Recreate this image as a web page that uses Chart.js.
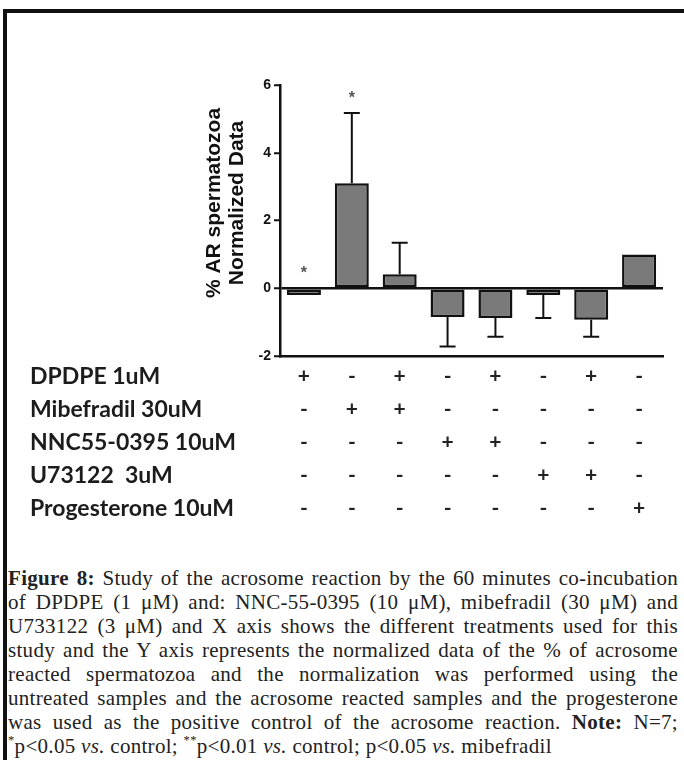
<!DOCTYPE html>
<html>
<head>
<meta charset="utf-8">
<script src="https://cdn.jsdelivr.net/npm/chart.js@4.4.0/dist/chart.umd.min.js"></script>
<style>
  body { margin: 0; background: #fff; width: 684px; height: 760px; overflow: hidden; position: relative; }
  #frame { position: absolute; left: 3px; top: 9px; width: 720px; height: 800px;
           border-left: 4px solid #111; border-top: 4px solid #111; }
  #arChart { position: absolute; left: 0; top: 0; }
  #caption { position: absolute; left: 8px; top: 566px; width: 670px;
             font-family: "Liberation Serif", serif; font-size: 21px; line-height: 24px;
             letter-spacing: 0.3px; color: #222; }
  #caption div { white-space: nowrap; text-align: justify; text-align-last: justify; }
  #caption div.last { text-align: left; text-align-last: left; }
  #caption sup { font-size: 0.6em; line-height: 0; vertical-align: 0.7em; }
</style>
</head>
<body>
<div id="frame"></div>
<canvas id="arChart" width="684" height="560"></canvas>
<div id="caption">
  <div><b>Figure 8:</b> Study of the acrosome reaction by the 60 minutes co-incubation</div>
  <div>of DPDPE (1 μM) and: NNC-55-0395 (10 μM), mibefradil (30 μM) and</div>
  <div>U733122 (3 μM) and X axis shows the different treatments used for this</div>
  <div>study and the Y axis represents the normalized data of the % of acrosome</div>
  <div>reacted spermatozoa and the normalization was performed using the</div>
  <div>untreated samples and the acrosome reacted samples and the progesterone</div>
  <div>was used as the positive control of the acrosome reaction. <b>Note:</b> N=7;</div>
  <div class="last"><sup>*</sup>p&lt;0.05 <i>vs.</i> control; <sup>**</sup>p&lt;0.01 <i>vs.</i> control; p&lt;0.05 <i>vs.</i> mibefradil</div>
</div>
<script>
// treatment rows shown under the x axis
const treatments = ['DPDPE 1uM', 'Mibefradil 30uM', 'NNC55-0395 10uM', 'U73122  3uM', 'Progesterone 10uM'];
const dpdpe        = ['+', '-', '+', '-', '+', '-', '+', '-'];
const mibefradil   = ['-', '+', '+', '-', '-', '-', '-', '-'];
const nnc          = ['-', '-', '-', '+', '+', '-', '-', '-'];
const u73122       = ['-', '-', '-', '-', '-', '+', '+', '-'];
const progesterone = ['-', '-', '-', '-', '-', '-', '-', '+'];

// normalized % AR spermatozoa (mean) and error (one-sided)
const arValues = [-0.2, 3.1, 0.41, -0.85, -0.88, -0.2, -0.93, 1.0];
const arErrors = [0, 2.07, 0.93, 0.87, 0.55, 0.68, 0.5, 0];
const significance = ['*', '*', '', '', '', '', '', ''];
const yTicks = [-2, 0, 2, 4, 6];
const yTitle = ['% AR spermatozoa', 'Normalized Data'];

// each x label is the column of +/- for that group
const groupLabels = dpdpe.map((d, i) => [d, mibefradil[i], nnc[i], u73122[i], progesterone[i]]);

const ROW_H = 33;
const TICK_PAD = 4;

// error bars + significance stars
const errorBarPlugin = {
    id: 'errorBars',
    afterDatasetsDraw(chart) {
        const ctx = chart.ctx;
        const x = chart.scales.x, y = chart.scales.y;
        ctx.save();
        ctx.strokeStyle = '#111';
        ctx.lineWidth = 2;
        arValues.forEach((v, i) => {
            const cx = x.getPixelForValue(i);
            const err = arErrors[i];
            if (err) {
                const end = v >= 0 ? v + err : v - err;
                const y0 = y.getPixelForValue(v);
                const y1 = y.getPixelForValue(end);
                ctx.beginPath();
                ctx.moveTo(cx, y0);
                ctx.lineTo(cx, y1);
                ctx.moveTo(cx - 8, y1);
                ctx.lineTo(cx + 8, y1);
                ctx.stroke();
            }
            if (significance[i]) {
                const top = Math.max(0, v + (v >= 0 ? err : 0));
                ctx.fillStyle = '#555';
                ctx.font = 'bold 16px "Liberation Sans"';
                ctx.textAlign = 'center';
                ctx.textBaseline = 'middle';
                ctx.fillText(significance[i], cx, y.getPixelForValue(top) - 15);
            }
        });
        ctx.restore();
    }
};

// row names to the left of the +/- table, and the rotated y title
const labelPlugin = {
    id: 'sideLabels',
    afterDraw(chart) {
        const ctx = chart.ctx;
        const x = chart.scales.x;
        ctx.save();
        ctx.fillStyle = '#1c1c1c';
        ctx.font = 'bold 23px Lato';
        ctx.textAlign = 'left';
        ctx.textBaseline = 'middle';
        treatments.forEach((t, i) => {
            ctx.fillText(t, 30, x.top + TICK_PAD + ROW_H * (i + 0.5));
        });
        ctx.restore();

        // y title sits a bit above the axis middle in the original
        ctx.save();
        ctx.fillStyle = '#111';
        ctx.font = 'bold 21px "Liberation Sans"';
        ctx.textAlign = 'center';
        ctx.textBaseline = 'middle';
        ctx.translate(214, 203);
        ctx.rotate(-Math.PI / 2);
        yTitle.forEach((line, i) => ctx.fillText(line, 0, i * 23));
        ctx.restore();
    }
};

const ctx = document.getElementById('arChart').getContext('2d');
const arChart = new Chart(ctx, {
    type: 'bar',
    data: {
        labels: groupLabels,
        datasets: [{
            data: arValues,
            backgroundColor: '#7a7a7a',
            borderColor: '#111',
            borderWidth: 2.5,
            borderSkipped: false,
            barPercentage: 0.71,
            categoryPercentage: 1.0
        }]
    },
    options: {
        responsive: false,
        animation: false,
        layout: { padding: { left: 200, right: 21, top: 85, bottom: 0 } },
        plugins: { legend: { display: false }, tooltip: { enabled: false } },
        scales: {
            x: {
                grid: { display: false, drawTicks: false },
                border: { display: true, color: '#111', width: 2.5 },
                ticks: {
                    color: '#222',
                    autoSkip: false,
                    maxRotation: 0,
                    padding: TICK_PAD,
                    font: { family: 'Lato', weight: 'bold', size: 21, lineHeight: ROW_H + 'px' }
                },
                afterFit: s => { s.height = 204; }
            },
            y: {
                min: -2,
                max: 6,
                afterBuildTicks: s => { s.ticks = yTicks.map(v => ({ value: v })); },
                ticks: {
                    color: '#111',
                    padding: 3,
                    font: { family: 'Liberation Sans', weight: 'bold', size: 14 }
                },
                grid: {
                    color: c => (c.tick && c.tick.value === 0) ? '#111' : 'rgba(0,0,0,0)',
                    lineWidth: 2.5,
                    tickColor: '#111',
                    tickLength: 6,
                    tickWidth: 2
                },
                border: { color: '#111', width: 2.5 },
                title: { display: false },
                afterFit: s => { s.width = 80; }
            }
        }
    },
    plugins: [errorBarPlugin, labelPlugin]
});
</script>
</body>
</html>
